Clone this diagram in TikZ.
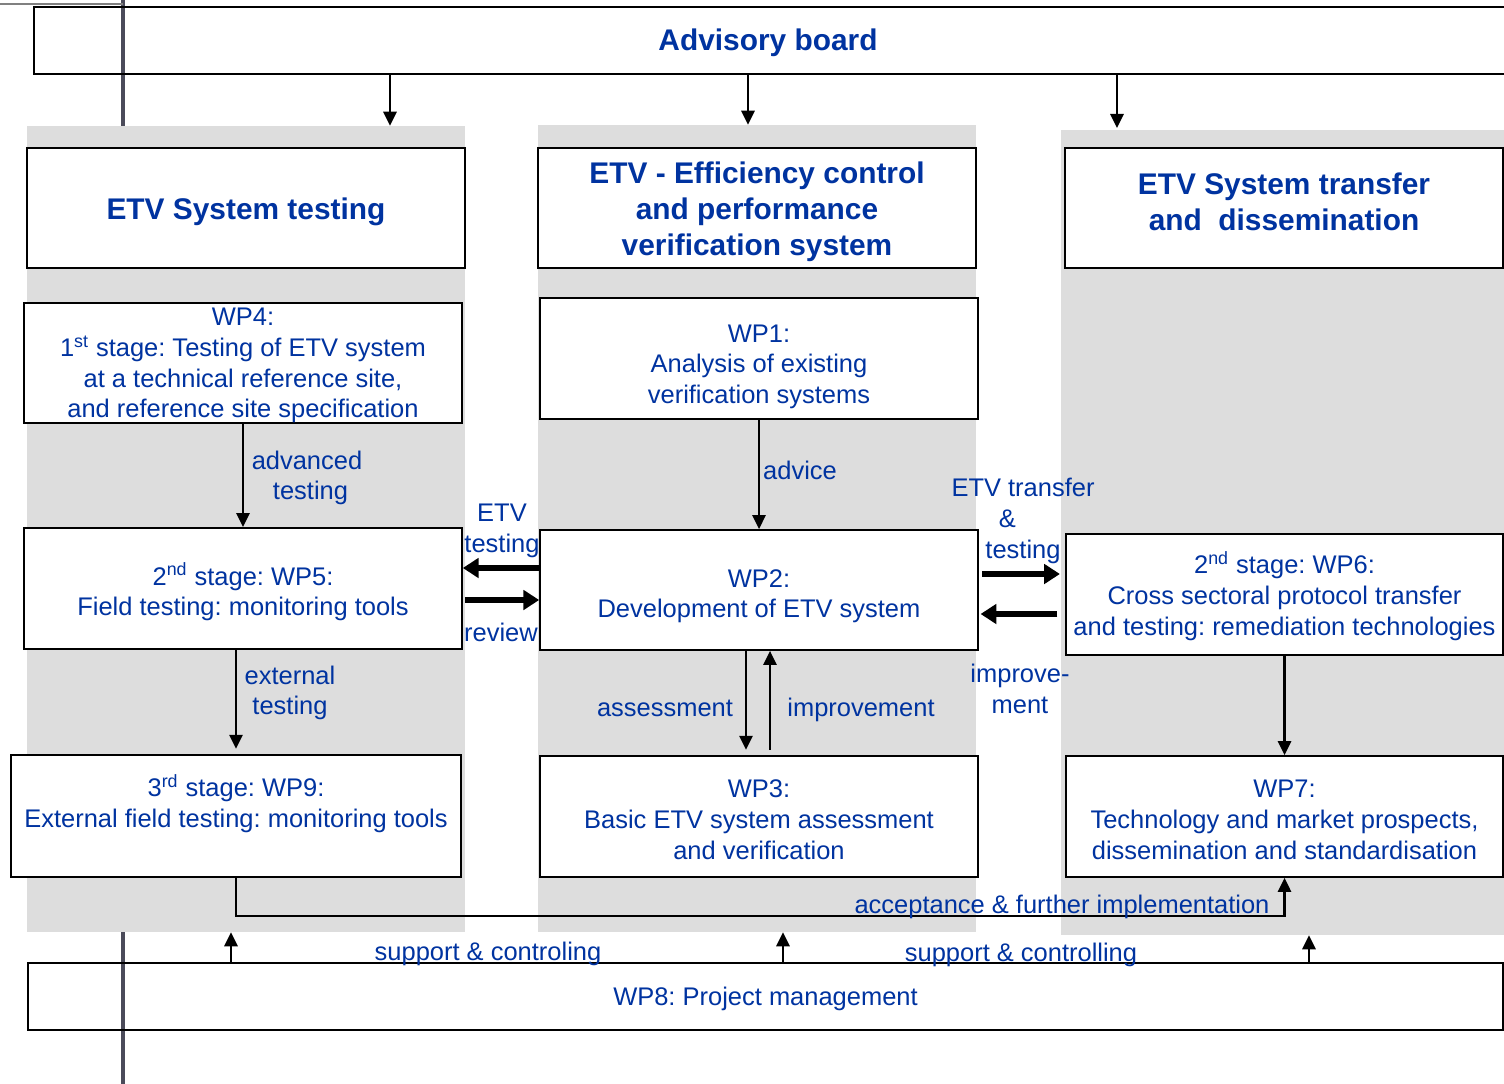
\documentclass[tikz,border=0pt]{standalone}
\usepackage{fontspec}
\setmainfont{Liberation Sans}
\usetikzlibrary{arrows.meta}
\definecolor{etvblue}{RGB}{0,51,160}
\definecolor{colgray}{RGB}{221,221,221}
\definecolor{edgegray}{RGB}{75,75,90}
\newcommand{\bodyfont}{\fontsize{14.5}{17.5}\selectfont}
\newcommand{\headfont}{\bfseries\fontsize{17}{20.4}\selectfont}
% invisible struts to move box text up or down
\newcommand{\tallstrut}[1]{\rule{0pt}{#1}}
\newcommand{\deepstrut}[1]{\rule[-#1]{0pt}{#1}}
\frenchspacing

\begin{document}
\begin{tikzpicture}[x=0.02cm,y=-0.02cm,
    colbg/.style={fill=colgray,draw=none,inner sep=0pt},
    box/.style={draw,line width=1pt,fill=white,inner sep=1pt,align=center,
                text=etvblue,font=\bodyfont},
    hdr/.style={box,font=\headfont},
    lbl/.style={text=etvblue,font=\bodyfont,align=center,inner sep=0pt},
    arr/.style={-{Triangle[length=8pt,width=7.5pt]},line width=1.4pt},
    fat/.style={-{Triangle[length=9pt,width=11pt]},line width=3.4pt}]
    \useasboundingbox (0,0) rectangle (1504,1084);
    \clip (0,0) rectangle (1504,1084);
    % page edge marks
    \draw[edgegray,line width=2pt] (123,0) -- (123,130);
    \draw[edgegray,line width=2pt] (123,930) -- (123,1084);
    \draw[gray,line width=1.2pt] (0,4) -- (123,4);
    % columns
    \node[colbg,minimum width=8.76cm,minimum height=16.12cm] (colL) at (246,529) {};
    \node[colbg,minimum width=8.76cm,minimum height=16.14cm] (colM) at (757,528.5) {};
    \node[colbg,minimum width=8.86cm,minimum height=16.1cm] (colR) at (1282.5,532.5) {};
    % advisory board
    \node[lbl,font=\headfont,minimum width=29.36cm,minimum height=1.34cm] (adv) at (768,40.5)
        {\tallstrut{14.7pt}Advisory board};
    \draw[line width=1pt] ([xshift=1cm]adv.north east) -- (adv.north west)
        -- (adv.south west) -- ([xshift=1cm]adv.south east);
    % headers
    \node[hdr,minimum width=8.76cm,minimum height=2.4cm] (hdrL) at (246,208)
        {\tallstrut{16.7pt}ETV System testing};
    \node[hdr,minimum width=8.76cm,minimum height=2.4cm] (hdrM) at (757,208)
        {\tallstrut{17pt}ETV - Efficiency control\\and performance\\verification system};
    \node[hdr,minimum width=8.76cm,minimum height=2.4cm] (hdrR) at (1284,208)
        {ETV System transfer\\and~ dissemination\deepstrut{6.8pt}};
    % work packages
    \node[box,inner ysep=0pt,minimum width=8.76cm,minimum height=2.4cm] (wp4) at (243,363)
        {\tallstrut{13pt}WP4:\\1\textsuperscript{st} stage: Testing of ETV system\\at a technical reference site,\\and reference site specification};
    \node[box,minimum width=8.76cm,minimum height=2.42cm] (wp1) at (759,358.5)
        {\tallstrut{19.5pt}WP1:\\Analysis of existing\\verification systems};
    \node[box,minimum width=8.76cm,minimum height=2.42cm] (wp5) at (243,588.5)
        {\tallstrut{16.6pt}2\textsuperscript{nd} stage: WP5:\\Field testing: monitoring tools};
    \node[box,minimum width=8.76cm,minimum height=2.4cm] (wp2) at (759,590)
        {\tallstrut{17.2pt}WP2:\\Development of ETV system};
    \node[box,minimum width=8.74cm,minimum height=2.42cm] (wp6) at (1284.5,594.5)
        {\tallstrut{14.4pt}2\textsuperscript{nd} stage: WP6:\\Cross sectoral protocol transfer\\and testing: remediation technologies};
    \node[box,minimum width=9cm,minimum height=2.44cm] (wp9) at (236,816)
        {3\textsuperscript{rd} stage: WP9:\\External field testing: monitoring tools\\~};
    \node[box,minimum width=8.76cm,minimum height=2.42cm] (wp3) at (759,816.5)
        {\tallstrut{13.8pt}WP3:\\Basic ETV system assessment\\and verification};
    \node[box,minimum width=8.74cm,minimum height=2.42cm] (wp7) at (1284.5,816.5)
        {\tallstrut{13.8pt}WP7:\\Technology and market prospects,\\dissemination and standardisation};
    \node[box,fill=none,minimum width=29.5cm,minimum height=1.34cm] (wp8) at (765.5,996.5)
        {\tallstrut{12.7pt}WP8: Project management};
    % helper coordinates
    \coordinate (a1) at (390,0);
    \coordinate (a2) at (748,0);
    \coordinate (a3) at (1117,0);
    \coordinate (b1) at (231,0);
    \coordinate (b2) at (783,0);
    \coordinate (b3) at (1309,0);
    \coordinate (e1) at (0,568);
    \coordinate (e2) at (0,600);
    \coordinate (e3) at (0,574);
    \coordinate (e4) at (0,614);
    \coordinate (accy) at (0,916);
    % connectors
    \draw[arr] (a1 |- adv.south) -- (a1 |- colL.north);
    \draw[arr] (a2 |- adv.south) -- (a2 |- colM.north);
    \draw[arr] (a3 |- adv.south) -- ([yshift=1pt]a3 |- colR.north);
    \draw[arr] (wp4) -- (wp5);
    \draw[arr,shorten >=3pt] (wp5.south -| wp9.north) -- (wp9.north);
    \draw[arr] (wp1) -- (wp2);
    \draw[arr,shorten >=3pt] ([xshift=-0.26cm]wp2.south) -- ([xshift=-0.26cm]wp3.north);
    \draw[arr,shorten <=3pt] ([xshift=0.22cm]wp3.north) -- ([xshift=0.22cm]wp2.south);
    \draw[arr] (wp6) -- (wp7);
    \draw[arr] (wp9.south) -- (wp9.south |- accy) -| (wp7.south);
    \draw[fat] (wp2.west |- e1) -- (wp5.east |- e1);
    \draw[fat,shorten <=1.5pt] (wp5.east |- e2) -- (wp2.west |- e2);
    \draw[fat,shorten <=2pt,shorten >=3pt] (wp2.east |- e3) -- (wp6.west |- e3);
    \draw[fat,shorten <=4.5pt,shorten >=1pt] (wp6.west |- e4) -- (wp2.east |- e4);
    \draw[arr] (b1 |- wp8.north) -- (b1 |- colL.south);
    \draw[arr] (b2 |- wp8.north) -- (b2 |- colM.south);
    \draw[arr] (b3 |- wp8.north) -- (b3 |- colR.south);
    % connector labels
    \node[lbl] (lAdvanced) at (307,478) {advanced\\\hspace*{4pt}testing};
    \node[lbl] (lExternal) at (290,693) {external\\testing};
    \node[lbl] (lAdvice) at (800,470) {advice};
    \node[lbl] (lAssess) at (665,708) {assessment};
    \node[lbl] (lImprove) at (861,710) {improvement};
    \node[lbl] (lEtvTest) at (502,531) {ETV\\testing};
    \node[lbl] (lReview) at (501,632) {review};
    \node[lbl] (lTransfer) at (1023,521) {ETV transfer\\\makebox[0pt][r]{\&\hspace{4pt}}\\testing};
    \node[lbl] (lImpr) at (1020,689) {improve-\\ment};
    \node[lbl] (lAccept) at (1062,907) {acceptance \& further implementation};
    \node[lbl] (lSupport1) at (488,954) {support \& controling};
    \node[lbl] (lSupport2) at (1021,955) {support \& controlling};
\end{tikzpicture}
\end{document}
